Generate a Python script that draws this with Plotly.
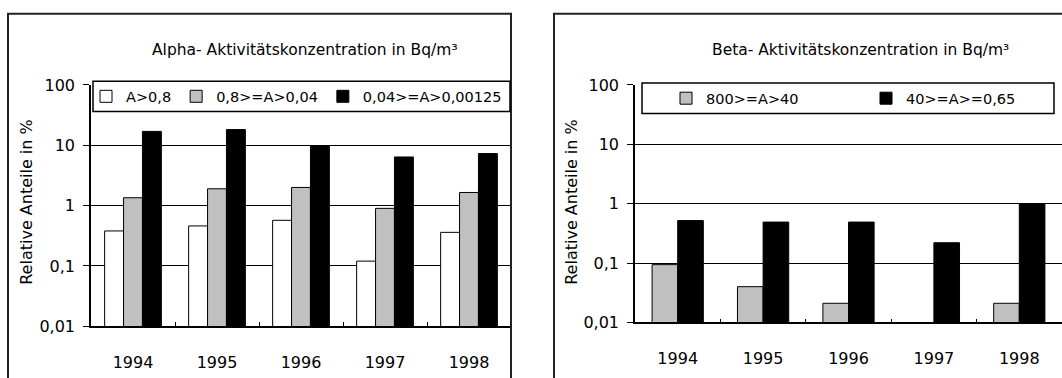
import plotly.graph_objects as go

# Relative shares (%) per year and activity-concentration class
years = ["1994", "1995", "1996", "1997", "1998"]

alpha_names = ["A>0,8", "0,8>=A>0,04", "0,04>=A>0,00125"]
alpha_high = [0.38, 0.46, 0.57, 0.12, 0.36]
alpha_mid = [1.35, 1.9, 2.0, 0.9, 1.65]
alpha_low = [17.0, 18.2, 9.9, 6.4, 7.3]

beta_names = ["800>=A>40", "40>=A>=0,65"]
beta_high = [0.094, 0.04, 0.021, None, 0.021]
beta_low = [0.52, 0.49, 0.49, 0.22, 1.0]

y_tickvals = [0.01, 0.1, 1, 10, 100]
y_ticktext = ["0,01", "0,1", "1", "10", "100"]

W, H = 1062, 378
FONT = "DejaVu Sans, sans-serif"


def px_x(x):
    return x / W


def px_y(y):
    return 1 - y / H


fig = go.Figure()

# Alpha panel: three bars per year, side by side
alpha_colors = ["#ffffff", "#c0c0c0", "#000000"]
w_a = 0.225
for i, (name, vals, col) in enumerate(zip(alpha_names, [alpha_high, alpha_mid, alpha_low], alpha_colors)):
    fig.add_trace(go.Bar(
        x=years, y=vals, name=name, xaxis="x", yaxis="y",
        width=w_a, offset=-1.5 * w_a + i * w_a,
        marker=dict(color=col, line=dict(color="#000000", width=1)),
        legend="legend",
    ))

# Beta panel: two bars per year, each with its own legend entry position
beta_colors = ["#c0c0c0", "#000000"]
beta_legends = ["legend2", "legend3"]
w_b = 0.30
for i, (name, vals, col, lg) in enumerate(zip(beta_names, [beta_high, beta_low], beta_colors, beta_legends)):
    fig.add_trace(go.Bar(
        x=years, y=vals, name=name, xaxis="x2", yaxis="y2",
        width=w_b, offset=-w_b + i * w_b,
        marker=dict(color=col, line=dict(color="#000000", width=1)),
        legend=lg,
    ))

yax = dict(
    type="log", range=[-2, 2], tickvals=y_tickvals, ticktext=y_ticktext,
    showgrid=True, gridcolor="#000000", gridwidth=1.3,
    showline=True, linecolor="#000000", linewidth=1.5,
    ticks="outside", ticklen=6, tickcolor="#000000", tickwidth=1,
    tickfont=dict(family=FONT, size=16, color="#000000"),
    ticklabelstandoff=5,
    zeroline=False, fixedrange=True,
)
xax = dict(
    type="category", showgrid=False,
    showline=True, linecolor="#000000", linewidth=1.5,
    ticks="inside", tickson="boundaries", ticklen=4, tickcolor="#000000",
    tickfont=dict(family=FONT, size=16, color="#000000"),
    ticklabelstandoff=21, fixedrange=True,
)

legend_common = dict(
    orientation="h", xanchor="left", yanchor="middle",
    bgcolor="rgba(0,0,0,0)", borderwidth=0,
    font=dict(family=FONT, size=14.5, color="#000000"),
    itemclick=False, itemdoubleclick=False,
)

fig.update_layout(
    width=W, height=H,
    margin=dict(l=0, r=0, t=0, b=0),
    paper_bgcolor="#ffffff", plot_bgcolor="#ffffff",
    barmode="overlay",
    showlegend=True,
    xaxis=dict(xax, domain=[px_x(91), px_x(511)], anchor="y"),
    yaxis=dict(yax, domain=[px_y(334), px_y(80)], anchor="x"),
    xaxis2=dict(xax, domain=[px_x(635), px_x(1062)], anchor="y2"),
    yaxis2=dict(yax, domain=[px_y(330), px_y(80)], anchor="x2"),
    legend=dict(legend_common, x=px_x(86), y=px_y(92)),
    legend2=dict(legend_common, x=px_x(666), y=px_y(94)),
    legend3=dict(legend_common, x=px_x(866), y=px_y(94)),
)

# Panel frames and legend boxes
shapes = [
    dict(type="rect", xref="paper", yref="paper",
         x0=px_x(8), x1=px_x(511), y0=px_y(400), y1=px_y(5),
         line=dict(color="#222222", width=2), fillcolor="rgba(0,0,0,0)", layer="above"),
    dict(type="rect", xref="paper", yref="paper",
         x0=px_x(554), x1=px_x(1100), y0=px_y(400), y1=px_y(5),
         line=dict(color="#222222", width=2), fillcolor="rgba(0,0,0,0)", layer="above"),
    dict(type="rect", xref="paper", yref="paper",
         x0=px_x(93), x1=px_x(510), y0=px_y(108), y1=px_y(76),
         line=dict(color="#000000", width=1.5), fillcolor="#ffffff", layer="above"),
    dict(type="rect", xref="paper", yref="paper",
         x0=px_x(642), x1=px_x(1054), y0=px_y(110), y1=px_y(78),
         line=dict(color="#000000", width=1.5), fillcolor="#ffffff", layer="above"),
]
fig.update_layout(shapes=shapes)

annotations = [
    dict(text="Alpha- Aktivitätskonzentration in Bq/m³", x=px_x(305), y=px_y(43),
         xref="paper", yref="paper", showarrow=False, xanchor="center", yanchor="middle",
         font=dict(family=FONT, size=15.5, color="#000000")),
    dict(text="Beta- Aktivitätskonzentration in Bq/m³", x=px_x(860), y=px_y(43),
         xref="paper", yref="paper", showarrow=False, xanchor="center", yanchor="middle",
         font=dict(family=FONT, size=15.5, color="#000000")),
    dict(text="Relative Anteile in %", x=px_x(27), y=px_y(203), textangle=-90,
         xref="paper", yref="paper", showarrow=False, xanchor="center", yanchor="middle",
         font=dict(family=FONT, size=16, color="#000000")),
    dict(text="Relative Anteile in %", x=px_x(572), y=px_y(203), textangle=-90,
         xref="paper", yref="paper", showarrow=False, xanchor="center", yanchor="middle",
         font=dict(family=FONT, size=16, color="#000000")),
]
fig.update_layout(annotations=annotations)

fig.write_html("out.html")
